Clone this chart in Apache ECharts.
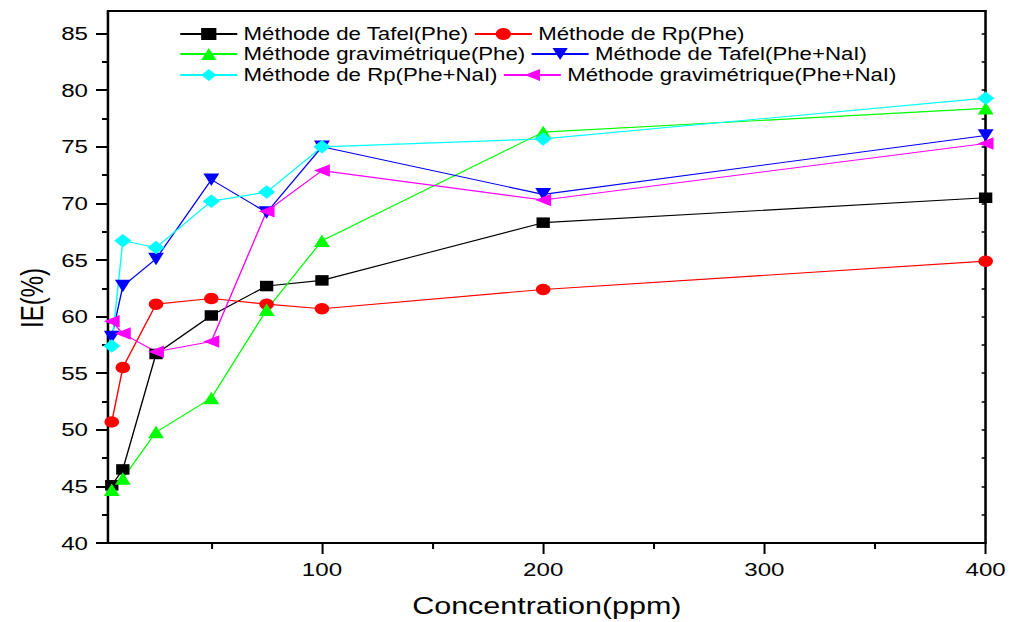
<!DOCTYPE html>
<html><head><meta charset="utf-8">
<script src="https://cdn.jsdelivr.net/npm/echarts@6/dist/echarts.min.js"></script>
<style>
html,body{margin:0;padding:0;background:#fff;overflow:hidden;}
#wrap{width:1010px;height:622px;overflow:hidden;position:relative;}
#chart{height:622px;transform-origin:0 0;position:absolute;left:0;top:0;}
</style></head><body>
<div id="wrap"><div id="chart"></div></div>
<script>
// ---- data ----
const xValues = [5, 10, 25, 50, 75, 100, 200, 400];
const seriesNames = [
  'Méthode de Tafel(Phe)', 'Méthode de Rp(Phe)',
  'Méthode gravimétrique(Phe)', 'Méthode de Tafel(Phe+NaI)',
  'Méthode de Rp(Phe+NaI)', 'Méthode gravimétrique(Phe+NaI)'
];
const tafelPhe = [45.1, 46.5, 56.7, 60.1, 62.7, 63.2, 68.3, 70.5];
const rpPhe    = [50.7, 55.5, 61.1, 61.6, 61.1, 60.7, 62.4, 64.9];
const gravPhe  = [44.7, 45.7, 49.8, 52.8, 60.6, 66.7, 76.3, 78.4];
const tafelNaI = [58.2, 62.7, 65.1, 72.1, 69.2, 75.0, 70.8, 76.0];
const rpNaI    = [57.4, 66.7, 66.1, 70.2, 71.0, 75.0, 75.7, 79.3];
const gravNaI  = [59.6, 58.5, 56.9, 57.8, 69.3, 72.9, 70.3, 75.3];
const xMajorTicks = [100, 200, 300, 400];
const xMinorTicks = [50, 150, 250, 350];
const yMajorTicks = [40, 45, 50, 55, 60, 65, 70, 75, 80, 85];
const yMinorTicks = [42.5, 47.5, 52.5, 57.5, 62.5, 67.5, 72.5, 77.5, 82.5];

// ---- layout (the reference picture is stretched horizontally) ----
const SX = 1.27;
const W = 1010 / SX;
const el = document.getElementById('chart');
el.style.width = W + 'px';
el.style.transform = 'scaleX(' + SX + ')';
const px = v => v / SX;
const FONT = "'Liberation Sans', Arial, sans-serif";

const allSeries = [tafelPhe, rpPhe, gravPhe, tafelNaI, rpNaI, gravNaI];
const colors = ['#000000', '#ff0000', '#00ff00', '#0000ff', '#00ffff', '#ff00ff'];
const symbols = ['rect', 'circle', 'triangle', 'triangle', 'diamond', 'triangle'];
const rotations = [0, 0, 0, 180, 0, 90];
const sizes = [10.5, 11.5, 12.5, 12.5, 13.5, 12.5];

const chart = echarts.init(el, null, { renderer: 'svg' });

const axisLine = { show: true, onZero: false, lineStyle: { color: '#000', width: 2 } };

const legendRows = [[0, 1], [2, 3], [4, 5]];
const legendCenters = [33, 53, 74];

chart.setOption({
  animation: false,
  backgroundColor: '#fff',
  textStyle: { fontFamily: FONT },
  grid: { left: px(108), right: px(1010 - 986), top: 11, bottom: 622 - 543, containLabel: false, outerBoundsMode: 'none' },
  legend: legendRows.map((row, r) => ({
    data: row.map(i => seriesNames[i]),
    left: px(179),
    top: legendCenters[r] - 8,
    padding: 0,
    itemWidth: px(57),
    itemHeight: 15,
    itemGap: 4,
    orient: 'horizontal',
    textStyle: { fontSize: 17.5, color: '#000', fontFamily: FONT },
    selectedMode: false
  })),
  xAxis: [
    {
      type: 'value', position: 'bottom', min: 3.3, max: 400,
      axisLine: axisLine,
      axisTick: { show: true, customValues: xMajorTicks, length: 11, lineStyle: { color: '#000', width: px(2) } },
      axisLabel: { customValues: xMajorTicks, fontSize: 19, color: '#000', margin: 17, fontFamily: FONT },
      splitLine: { show: false },
      name: 'Concentration(ppm)', nameLocation: 'middle', nameGap: 51,
      nameTextStyle: { fontSize: 24, color: '#000', fontFamily: FONT }
    },
    {
      type: 'value', position: 'bottom', min: 3.3, max: 400,
      axisLine: { show: false },
      axisTick: { show: true, customValues: xMinorTicks, length: 6, lineStyle: { color: '#000', width: px(2) } },
      axisLabel: { show: false },
      splitLine: { show: false }
    },
    {
      type: 'value', position: 'top', min: 3.3, max: 400,
      axisLine: axisLine,
      axisTick: { show: false }, axisLabel: { show: false }, splitLine: { show: false }
    }
  ],
  yAxis: [
    {
      type: 'value', position: 'left', min: 40, max: 87,
      axisLine: { show: true, onZero: false, lineStyle: { color: '#000', width: 2 } },
      axisTick: { show: true, customValues: yMajorTicks, length: px(12), lineStyle: { color: '#000', width: 2 } },
      axisLabel: { customValues: yMajorTicks, fontSize: 19, color: '#000', margin: px(20), fontFamily: FONT },
      splitLine: { show: false },
      name: 'IE(%)', nameLocation: 'middle', nameGap: 47,
      nameTextStyle: { fontSize: 24, color: '#000', fontFamily: FONT, padding: [0, 42, 0, 0] }
    },
    {
      type: 'value', position: 'left', min: 40, max: 87,
      axisLine: { show: false },
      axisTick: { show: true, customValues: yMinorTicks, length: px(6), lineStyle: { color: '#000', width: 2 } },
      axisLabel: { show: false }, splitLine: { show: false }
    },
    {
      type: 'value', position: 'right', min: 40, max: 87,
      axisLine: { show: true, onZero: false, lineStyle: { color: '#000', width: 2 } },
      axisTick: { show: true, inside: true, customValues: yMajorTicks.concat(yMinorTicks), length: px(4), lineStyle: { color: '#000', width: 1.5 } },
      axisLabel: { show: false }, splitLine: { show: false }
    }
  ],
  series: allSeries.map((arr, i) => ({
    name: seriesNames[i],
    type: 'line',
    xAxisIndex: 0, yAxisIndex: 0,
    data: xValues.map((x, k) => [x, arr[k]]),
    symbol: symbols[i],
    symbolSize: sizes[i],
    symbolRotate: rotations[i],
    showAllSymbol: true,
    clip: false,
    lineStyle: { color: colors[i], width: 1.1 },
    itemStyle: { color: colors[i] },
    emphasis: { disabled: true }
  }))
});
</script>
</body></html>
